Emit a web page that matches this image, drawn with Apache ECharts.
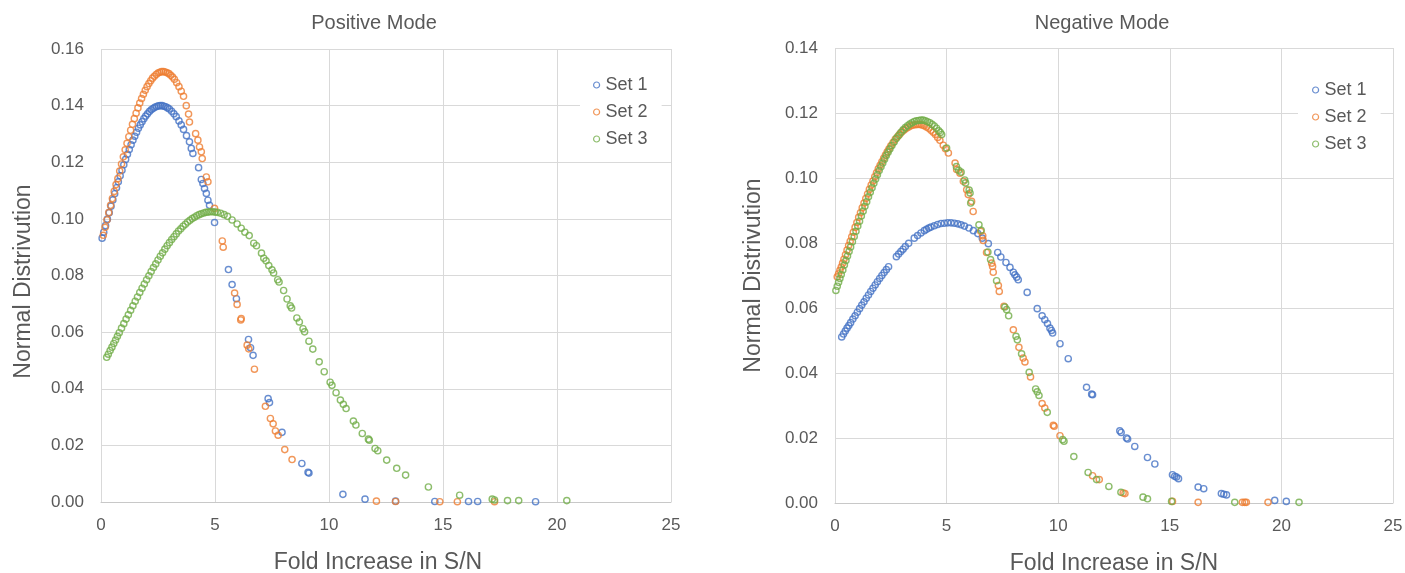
<!DOCTYPE html>
<html>
<head>
<meta charset="utf-8">
<script src="https://cdn.jsdelivr.net/npm/echarts@6/dist/echarts.min.js"></script>
<style>html,body{margin:0;padding:0;background:#fff}#chart{width:1405px;height:573px}</style>
</head>
<body>
<div id="chart"></div>
<script>
// ---- Data: [Fold Increase in S/N, Normal Distribution] ----
const seriesNames = ['Set 1', 'Set 2', 'Set 3'];
const chartTitles = ['Positive Mode', 'Negative Mode'];
const xAxisName = 'Fold Increase in S/N';
const yAxisName = 'Normal Distrivution';
const xTicks = { min: 0, max: 25, interval: 5 };
const yTicksPos = { min: 0, max: 0.16, interval: 0.02 };
const yTicksNeg = { min: 0, max: 0.14, interval: 0.02 };

const posSet1 = [
[0.05,0.0932],[0.12,0.0953],[0.2,0.0976],[0.28,0.0999],[0.36,0.1022],[0.44,0.1045],[0.52,0.1067],[0.6,0.1089],[0.68,0.1110],[0.76,0.1131],[0.84,0.1152],[0.92,0.1172],[1.0,0.1191],[1.08,0.1210],[1.16,0.1228],[1.24,0.1245],[1.32,0.1262],[1.4,0.1278],[1.48,0.1292],[1.56,0.1306],[1.64,0.1320],[1.72,0.1332],[1.8,0.1343],[1.88,0.1354],[1.96,0.1363],[2.04,0.1371],[2.12,0.1379],[2.2,0.1385],[2.28,0.1390],[2.36,0.1394],[2.44,0.1397],[2.52,0.1399],[2.6,0.1400],[2.68,0.1400],[2.76,0.1398],[2.84,0.1396],[2.92,0.1392],[3.0,0.1388],[3.1,0.1380],[3.2,0.1371],[3.3,0.1361],[3.42,0.1346],[3.52,0.1332],[3.62,0.1316],[3.75,0.1294],[3.88,0.1272],[3.96,0.1249],[4.03,0.1231],[4.28,0.1181],[4.40,0.1139],[4.47,0.1125],[4.54,0.1107],[4.62,0.1090],[4.69,0.1066],[4.76,0.1048],[4.98,0.0987],[5.59,0.0821],[5.75,0.0768],[5.94,0.0718],[6.47,0.0574],[6.56,0.0545],[6.67,0.0518],[7.33,0.0365],[7.39,0.0351],[7.94,0.0246],[8.81,0.0136],[9.08,0.0105],[9.12,0.0102],[10.61,0.0027],[11.58,0.0010],[12.92,0.0003],[14.64,0.0002],[16.12,0.0002],[16.52,0.0002],[19.06,0.0001]
];
const posSet2 = [
[0.1,0.0942],[0.18,0.0970],[0.26,0.0996],[0.34,0.1022],[0.42,0.1048],[0.5,0.1072],[0.58,0.1097],[0.66,0.1121],[0.74,0.1142],[0.82,0.1169],[0.9,0.1194],[0.98,0.1219],[1.06,0.1244],[1.14,0.1267],[1.22,0.1290],[1.3,0.1313],[1.38,0.1334],[1.46,0.1354],[1.54,0.1373],[1.62,0.1392],[1.7,0.1409],[1.78,0.1425],[1.86,0.1440],[1.94,0.1454],[2.02,0.1467],[2.1,0.1478],[2.18,0.1488],[2.26,0.1497],[2.34,0.1504],[2.42,0.1510],[2.5,0.1515],[2.58,0.1518],[2.66,0.1520],[2.74,0.1520],[2.82,0.1519],[2.9,0.1516],[2.98,0.1513],[3.06,0.1507],[3.14,0.1501],[3.22,0.1493],[3.32,0.1481],[3.42,0.1467],[3.52,0.1451],[3.62,0.1433],[3.74,0.1400],[3.84,0.1370],[3.88,0.1342],[4.15,0.1301],[4.25,0.1278],[4.32,0.1254],[4.40,0.1237],[4.44,0.1213],[4.62,0.1148],[4.69,0.1131],[4.98,0.1037],[5.32,0.0922],[5.36,0.0900],[5.86,0.0738],[5.97,0.0698],[6.13,0.0643],[6.15,0.0648],[6.41,0.0554],[6.48,0.0541],[6.73,0.0469],[7.21,0.0338],[7.43,0.0295],[7.55,0.0276],[7.65,0.0251],[7.77,0.0236],[8.06,0.0185],[8.38,0.0150],[12.08,0.0003],[12.92,0.0002],[14.86,0.0001],[15.63,0.0001],[17.26,0.0001]
];
const posSet3 = [
[0.25,0.0511],[0.32,0.0522],[0.4,0.0535],[0.48,0.0547],[0.56,0.0560],[0.64,0.0572],[0.72,0.0585],[0.8,0.0598],[0.9,0.0614],[1.0,0.0630],[1.1,0.0646],[1.2,0.0661],[1.3,0.0677],[1.4,0.0693],[1.5,0.0709],[1.6,0.0724],[1.7,0.0740],[1.8,0.0755],[1.9,0.0770],[2.0,0.0785],[2.1,0.0799],[2.2,0.0814],[2.3,0.0828],[2.4,0.0841],[2.5,0.0855],[2.6,0.0868],[2.7,0.0880],[2.8,0.0893],[2.9,0.0905],[3.0,0.0916],[3.1,0.0927],[3.2,0.0937],[3.3,0.0947],[3.4,0.0957],[3.5,0.0965],[3.6,0.0974],[3.7,0.0981],[3.8,0.0989],[3.9,0.0995],[4.0,0.1001],[4.1,0.1006],[4.2,0.1011],[4.3,0.1015],[4.4,0.1018],[4.5,0.1021],[4.6,0.1023],[4.7,0.1024],[4.8,0.1025],[4.9,0.1025],[5.0,0.1024],[5.1,0.1023],[5.25,0.1020],[5.4,0.1015],[5.55,0.1009],[5.75,0.0996],[5.97,0.0982],[6.15,0.0967],[6.31,0.0953],[6.50,0.0941],[6.70,0.0914],[6.82,0.0905],[7.04,0.0879],[7.14,0.0861],[7.24,0.0852],[7.36,0.0835],[7.50,0.0820],[7.57,0.0809],[7.75,0.0785],[7.81,0.0777],[8.01,0.0747],[8.16,0.0717],[8.30,0.0693],[8.36,0.0685],[8.59,0.0650],[8.70,0.0636],[8.86,0.0612],[8.93,0.0601],[9.12,0.0568],[9.29,0.0540],[9.57,0.0495],[9.79,0.0460],[10.05,0.0423],[10.13,0.0412],[10.31,0.0386],[10.50,0.0360],[10.63,0.0345],[10.75,0.0330],[11.07,0.0286],[11.18,0.0272],[11.46,0.0242],[11.73,0.0222],[11.77,0.0218],[12.02,0.0189],[12.14,0.0181],[12.53,0.0148],[12.97,0.0119],[13.36,0.0095],[14.36,0.0053],[15.73,0.0024],[17.16,0.0010],[17.26,0.0007],[17.83,0.0005],[18.32,0.0005],[20.43,0.0005]
];

const negSet1 = [
[0.30,0.0511],[0.38,0.0520],[0.46,0.0529],[0.54,0.0538],[0.62,0.0546],[0.70,0.0555],[0.80,0.0566],[0.90,0.0576],[1.00,0.0587],[1.10,0.0598],[1.20,0.0609],[1.30,0.0619],[1.40,0.0630],[1.50,0.0640],[1.60,0.0651],[1.70,0.0661],[1.80,0.0671],[1.90,0.0681],[2.00,0.0691],[2.10,0.0700],[2.20,0.0709],[2.30,0.0718],[2.40,0.0727],[2.75,0.0758],[2.85,0.0766],[2.95,0.0774],[3.05,0.0781],[3.15,0.0789],[3.30,0.0799],[3.55,0.0815],[3.70,0.0823],[3.85,0.0831],[4.00,0.0838],[4.10,0.0842],[4.20,0.0846],[4.30,0.0849],[4.45,0.0853],[4.60,0.0857],[4.75,0.0860],[4.90,0.0861],[5.05,0.0862],[5.20,0.0862],[5.35,0.0861],[5.50,0.0859],[5.65,0.0856],[5.80,0.0852],[6.00,0.0846],[6.20,0.0838],[6.40,0.0829],[6.60,0.0815],[6.87,0.0798],[7.29,0.0771],[7.43,0.0757],[7.66,0.0740],[7.84,0.0725],[7.99,0.0710],[8.06,0.0702],[8.14,0.0695],[8.21,0.0687],[8.61,0.0648],[9.06,0.0598],[9.28,0.0576],[9.40,0.0564],[9.52,0.0552],[9.63,0.0538],[9.70,0.0531],[9.75,0.0523],[10.08,0.0490],[10.45,0.0444],[11.27,0.0356],[11.50,0.0335],[11.54,0.0333],[12.76,0.0222],[12.82,0.0217],[13.06,0.0200],[13.11,0.0197],[13.43,0.0174],[14.00,0.0140],[14.33,0.0120],[15.12,0.0087],[15.22,0.0082],[15.30,0.0080],[15.39,0.0075],[16.27,0.0049],[16.52,0.0044],[17.31,0.0029],[17.42,0.0027],[17.54,0.0025],[19.70,0.0008],[20.22,0.0005]
];
const negSet2 = [
[0.10,0.0696],[0.16,0.0705],[0.22,0.0716],[0.28,0.0726],[0.34,0.0738],[0.40,0.0750],[0.47,0.0764],[0.54,0.0778],[0.61,0.0792],[0.68,0.0805],[0.75,0.0819],[0.82,0.0833],[0.90,0.0848],[0.98,0.0863],[1.06,0.0879],[1.14,0.0893],[1.22,0.0908],[1.30,0.0923],[1.38,0.0937],[1.46,0.0951],[1.54,0.0965],[1.62,0.0978],[1.70,0.0991],[1.78,0.1004],[1.86,0.1016],[1.94,0.1028],[2.02,0.1039],[2.10,0.1050],[2.18,0.1061],[2.26,0.1071],[2.34,0.1081],[2.42,0.1090],[2.50,0.1099],[2.60,0.1109],[2.70,0.1119],[2.80,0.1127],[2.90,0.1135],[3.00,0.1142],[3.10,0.1148],[3.20,0.1153],[3.30,0.1157],[3.40,0.1161],[3.50,0.1163],[3.60,0.1164],[3.70,0.1165],[3.80,0.1165],[3.90,0.1163],[4.00,0.1161],[4.10,0.1157],[4.20,0.1153],[4.30,0.1147],[4.40,0.1141],[4.50,0.1134],[4.60,0.1125],[4.70,0.1116],[4.85,0.1101],[4.95,0.1090],[5.08,0.1077],[5.38,0.1046],[5.45,0.1026],[5.60,0.1015],[5.75,0.0990],[5.90,0.0964],[5.97,0.0949],[6.12,0.0928],[6.19,0.0897],[6.53,0.0836],[6.62,0.0822],[6.64,0.0808],[6.79,0.0771],[7.02,0.0738],[7.06,0.0728],[7.09,0.0710],[7.32,0.0669],[7.36,0.0651],[7.57,0.0605],[7.99,0.0533],[8.24,0.0479],[8.43,0.0446],[8.51,0.0434],[8.76,0.0388],[9.28,0.0306],[9.40,0.0292],[9.78,0.0239],[9.82,0.0236],[10.08,0.0207],[11.54,0.0084],[11.84,0.0072],[12.91,0.0031],[12.99,0.0029],[15.12,0.0005],[16.27,0.0002],[18.25,0.0002],[18.36,0.0002],[18.43,0.0002],[19.40,0.0002]
];
const negSet3 = [
[0.04,0.0654],[0.10,0.0667],[0.16,0.0679],[0.22,0.0691],[0.28,0.0703],[0.35,0.0717],[0.42,0.0732],[0.49,0.0746],[0.56,0.0760],[0.63,0.0774],[0.70,0.0788],[0.78,0.0804],[0.86,0.0820],[0.94,0.0836],[1.02,0.0852],[1.10,0.0867],[1.18,0.0883],[1.26,0.0898],[1.34,0.0913],[1.42,0.0927],[1.50,0.0942],[1.58,0.0956],[1.66,0.0970],[1.74,0.0984],[1.82,0.0997],[1.90,0.1010],[1.98,0.1023],[2.06,0.1035],[2.14,0.1046],[2.22,0.1058],[2.30,0.1069],[2.38,0.1079],[2.46,0.1089],[2.55,0.1100],[2.65,0.1111],[2.75,0.1122],[2.85,0.1131],[2.95,0.1140],[3.05,0.1148],[3.15,0.1155],[3.25,0.1161],[3.35,0.1166],[3.45,0.1170],[3.55,0.1174],[3.65,0.1176],[3.75,0.1177],[3.85,0.1178],[3.95,0.1178],[4.05,0.1176],[4.15,0.1173],[4.25,0.1170],[4.35,0.1165],[4.45,0.1160],[4.55,0.1153],[4.65,0.1145],[4.72,0.1140],[4.78,0.1134],[5.00,0.1092],[5.44,0.1035],[5.54,0.1024],[5.65,0.1018],[5.81,0.0994],[5.85,0.0985],[6.01,0.0963],[6.05,0.0954],[6.08,0.0923],[6.45,0.0856],[6.55,0.0839],[6.85,0.0772],[6.97,0.0749],[7.24,0.0684],[7.61,0.0603],[7.69,0.0595],[7.78,0.0576],[8.11,0.0513],[8.17,0.0502],[8.36,0.0459],[8.70,0.0402],[8.99,0.0351],[9.06,0.0342],[9.14,0.0331],[9.51,0.0279],[10.20,0.0195],[10.26,0.0190],[10.70,0.0143],[11.34,0.0094],[11.72,0.0072],[12.27,0.0051],[12.81,0.0033],[13.80,0.0018],[14.00,0.0013],[15.08,0.0005],[17.91,0.0002],[20.79,0.0002]
];

// ---- Styling ----
const COLORS = ['#4472C4', '#ED7D31', '#70AD47'];
const FONT = "'Liberation Sans', Arial, Helvetica, sans-serif";
const TXT = '#595959';
const GRIDC = '#D9D9D9';

function mkScatter(name, data, gi, color) {
  return {
    name: name, type: 'scatter', xAxisIndex: gi, yAxisIndex: gi,
    data: data, symbol: 'circle', symbolSize: 6.2,
    itemStyle: { color: 'rgba(255,255,255,0)', borderColor: color, borderWidth: 1.4 },
    emphasis: { disabled: true }, silent: true
  };
}
function mkX(gi, namePad) {
  return {
    type: 'value', gridIndex: gi, min: xTicks.min, max: xTicks.max, interval: xTicks.interval,
    name: xAxisName, nameLocation: 'middle', nameGap: 49,
    nameTextStyle: { fontSize: 23, color: TXT, fontFamily: FONT, padding: namePad },
    axisLine: { show: true, lineStyle: { color: '#C8C8C8', width: 1 } },
    axisTick: { show: false },
    axisLabel: { fontSize: 17, color: TXT, fontFamily: FONT, margin: 15 },
    splitLine: { show: true, showMinLine: true, showMaxLine: true, lineStyle: { color: GRIDC, width: 1 } }
  };
}
function mkY(gi, t, gap, namePad) {
  return {
    type: 'value', gridIndex: gi, min: t.min, max: t.max, interval: t.interval,
    name: yAxisName, nameLocation: 'middle', nameRotate: 90, nameGap: gap,
    nameTextStyle: { fontSize: 23, color: TXT, fontFamily: FONT, padding: namePad },
    axisLine: { show: false }, axisTick: { show: false },
    axisLabel: { fontSize: 17, color: TXT, fontFamily: FONT, margin: 17, formatter: v => v.toFixed(2) },
    splitLine: { show: true, showMinLine: true, showMaxLine: true, lineStyle: { color: GRIDC, width: 1 } }
  };
}
function mkLegend(left, top, padLeft) {
  return {
    data: seriesNames, orient: 'vertical', left: left, top: top,
    backgroundColor: '#ffffff', padding: [10, 14, 10, padLeft],
    itemWidth: 8, itemHeight: 6, itemGap: 9, icon: 'circle',
    itemStyle: { color: 'rgba(255,255,255,0)', borderWidth: 1.2 },
    textStyle: { fontSize: 18, lineHeight: 18, color: TXT, fontFamily: FONT, padding: [0, 0, 0, 0] },
    selectedMode: false
  };
}

const chart = echarts.init(document.getElementById('chart'), null, { renderer: 'canvas' });
chart.setOption({
  animation: false,
  backgroundColor: '#ffffff',
  textStyle: { fontFamily: FONT },
  title: [
    { text: chartTitles[0], left: 374, top: 13, textAlign: 'center', padding: 0,
      textStyle: { fontSize: 20, fontWeight: 'normal', color: TXT, fontFamily: FONT } },
    { text: chartTitles[1], left: 1102, top: 13, textAlign: 'center', padding: 0,
      textStyle: { fontSize: 20, fontWeight: 'normal', color: TXT, fontFamily: FONT } }
  ],
  legend: [ mkLegend(580, 66, 13), mkLegend(1298, 71, 14) ],
  grid: [
    { left: 101, top: 49, width: 570, height: 453, outerBoundsMode: 'none', containLabel: false },
    { left: 835, top: 48, width: 558, height: 455, outerBoundsMode: 'none', containLabel: false }
  ],
  xAxis: [ mkX(0, [0, 16, 0, 0]), mkX(1, 0) ],
  yAxis: [ mkY(0, yTicksPos, 66, [0, 12, 0, 0]), mkY(1, yTicksNeg, 70, 0) ],
  series: [
    mkScatter(seriesNames[0], posSet1, 0, COLORS[0]),
    mkScatter(seriesNames[1], posSet2, 0, COLORS[1]),
    mkScatter(seriesNames[2], posSet3, 0, COLORS[2]),
    mkScatter(seriesNames[0], negSet1, 1, COLORS[0]),
    mkScatter(seriesNames[1], negSet2, 1, COLORS[1]),
    mkScatter(seriesNames[2], negSet3, 1, COLORS[2])
  ]
});
</script>
</body>
</html>
